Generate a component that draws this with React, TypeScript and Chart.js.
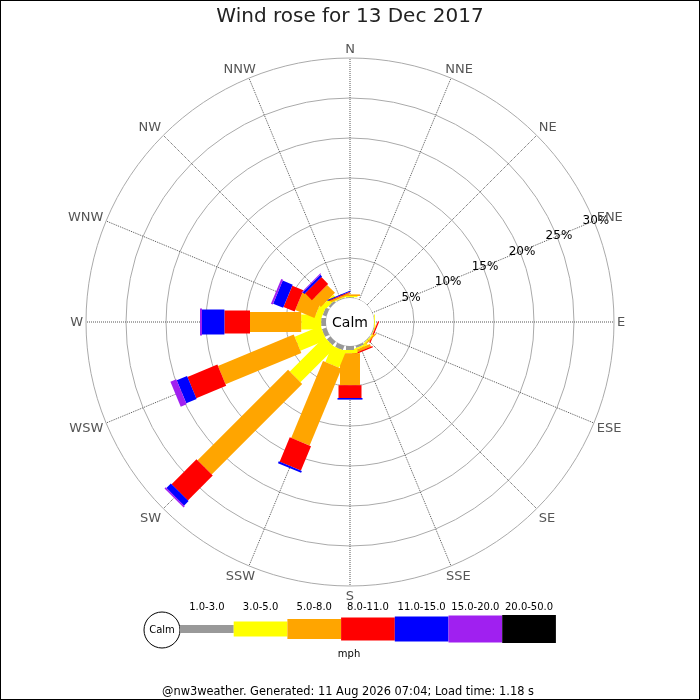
import { useEffect, useRef } from 'react'
import { Chart, registerables } from 'chart.js'

Chart.register(...registerables)

const directions = ['N', 'NNE', 'NE', 'ENE', 'E', 'ESE', 'SE', 'SSE', 'S', 'SSW', 'SW', 'WSW', 'W', 'WNW', 'NW', 'NNW']
const speedBins = ['1.0-3.0', '3.0-5.0', '5.0-8.0', '8.0-11.0', '11.0-15.0', '15.0-20.0', '20.0-50.0']

// % of the day per direction, one list per speed bin (mph)
const bin1to3 = [0.1, 0, 0, 0, 0, 0.1, 0.1, 0.3, 0.5, 0.6, 0.6, 0.6, 0.6, 0.5, 0.3, 0.1]
const bin3to5 = [0.15, 0, 0, 0, 0.1, 0.05, 0.15, 0.2, 0.4, 2.2, 6.1, 3.5, 2.5, 0.8, 0.6, 0.1]
const bin5to8 = [0.2, 0, 0, 0, 0, 0.05, 0.15, 0.35, 4.0, 10.4, 16.0, 10.25, 6.4, 2.6, 1.4, 0.2]
const bin8to11 = [0, 0, 0, 0, 0, 0.15, 0, 0.15, 1.6, 3.3, 4.4, 4.05, 3.2, 1.5, 1.2, 0.1]
const bin11to15 = [0, 0, 0, 0, 0, 0, 0, 0, 0.2, 0.25, 0.8, 1.4, 2.8, 1.35, 0.3, 0.12]
const bin15to20 = [0, 0, 0, 0, 0, 0, 0, 0, 0, 0, 0.2, 0.8, 0.25, 0.25, 0.12, 0]
const bin20to50 = [0, 0, 0, 0, 0, 0, 0, 0, 0, 0, 0, 0, 0, 0, 0, 0]

const tickValues = [0, 5, 10, 15, 20, 25, 30]

const binColors = ['#999999', '#ffff00', '#ffa500', '#ff0000', '#0000ff', '#a020f0', '#000000']
const legWidths = [8, 15, 20, 23, 25, 27, 28]
const FONT = "'DejaVu Sans', sans-serif"

// jpgraph style label alignment, a = maths angle (0 = east, ccw)
function labelAlign(a: number) {
  const q = Math.PI / 4
  let dx = 0
  let dy = 0
  if (a >= q && a <= 3 * q) dx = (a - q) * 2 / Math.PI
  else if (a > 3 * q && a <= 5 * q) dx = 1
  else if (a > 5 * q && a < 7 * q) dx = 1 - (a - 5 * q) * 2 / Math.PI
  if (a >= q && a <= 3 * q) dy = 1
  else if (a > 3 * q && a <= 5 * q) dy = 1 - (a - 3 * q) * 2 / Math.PI
  else if (a > 5 * q && a < 7 * q) dy = 0
  else if (a >= 7 * q) dy = (a - 7 * q) * 2 / Math.PI
  else dy = 0.5 + a * 2 / Math.PI
  return { dx, dy }
}

const windrosePlugin = {
  id: 'windrose',
  afterDatasetsDraw(chart: any) {
    const scale = chart.scales.r
    const ctx = chart.ctx
    const n = chart.data.labels.length
    ctx.save()
    for (let i = 0; i < n; i++) {
      const ang = scale.getIndexAngle(i) - Math.PI / 2
      const nx = -Math.sin(ang)
      const ny = Math.cos(ang)
      let cum = 0
      chart.data.datasets.forEach((ds: any, b: number) => {
        const v = ds.data[i]
        if (!v) return
        const p1 = scale.getPointPositionForValue(i, cum)
        const p2 = scale.getPointPositionForValue(i, cum + v)
        cum += v
        const hw = legWidths[b] / 2
        ctx.fillStyle = binColors[b]
        ctx.beginPath()
        ctx.moveTo(p1.x + nx * hw, p1.y + ny * hw)
        ctx.lineTo(p2.x + nx * hw, p2.y + ny * hw)
        ctx.lineTo(p2.x - nx * hw, p2.y - ny * hw)
        ctx.lineTo(p1.x - nx * hw, p1.y - ny * hw)
        ctx.closePath()
        ctx.fill()
      })
    }

    // calm circle
    const xc = scale.xCenter
    const yc = scale.yCenter
    ctx.fillStyle = '#ffffff'
    ctx.beginPath()
    ctx.arc(xc, yc, scale.getDistanceFromCenterForValue(0), 0, Math.PI * 2)
    ctx.fill()
    ctx.fillStyle = '#000'
    ctx.font = `14px ${FONT}`
    ctx.textAlign = 'center'
    ctx.textBaseline = 'middle'
    ctx.fillText('Calm', xc, yc + 1)

    // radial tick labels along ENE
    ctx.font = `12px ${FONT}`
    tickValues.slice(1).forEach((v) => {
      const p = scale.getPointPositionForValue(3, v)
      ctx.fillText(v + '%', p.x + 2, p.y)
    })

    // direction labels
    ctx.font = `13px ${FONT}`
    ctx.fillStyle = '#555555'
    ctx.textAlign = 'left'
    const h = 13
    for (let i = 0; i < n; i++) {
      const p = scale.getPointPosition(i, scale.drawingArea + 3)
      let a = Math.atan2(-(p.y - yc), p.x - xc)
      if (a < 0) a += Math.PI * 2
      const { dx, dy } = labelAlign(a)
      const txt = directions[i]
      const w = ctx.measureText(txt).width
      ctx.fillText(txt, p.x - dx * w, p.y - dy * h + h / 2 + 1)
    }
    ctx.restore()
  },
  afterDraw(chart: any) {
    const ctx = chart.ctx
    ctx.save()
    // legend
    const cx = 162
    const cy = 630
    ctx.strokeStyle = '#000'
    ctx.lineWidth = 1
    ctx.fillStyle = '#fff'
    ctx.beginPath()
    ctx.arc(cx, cy, 18, 0, Math.PI * 2)
    ctx.fill()
    ctx.stroke()
    ctx.fillStyle = '#000'
    ctx.font = `10px ${FONT}`
    ctx.textAlign = 'center'
    ctx.textBaseline = 'middle'
    ctx.fillText('Calm', cx, cy)
    const x0 = 180
    const segW = 53.7
    const ly = 629
    speedBins.forEach((label, b) => {
      const x = x0 + b * segW
      ctx.fillStyle = binColors[b]
      ctx.fillRect(x, ly - legWidths[b] / 2, segW, legWidths[b])
      ctx.fillStyle = '#000'
      ctx.fillText(label, x + segW / 2, 607)
    })
    ctx.fillText('mph', 349, 654)
    ctx.font = `11.4px ${FONT}`
    ctx.fillText('@nw3weather. Generated: 11 Aug 2026 07:04; Load time: 1.18 s', 348, 692)
    // frame
    ctx.strokeStyle = '#000'
    ctx.strokeRect(0.5, 0.5, chart.width - 1, chart.height - 1)
    ctx.restore()
  },
}

export default function App() {
  const canvasRef = useRef<HTMLCanvasElement>(null)

  useEffect(() => {
    document.body.style.margin = '0'
    if (!canvasRef.current) return
    const series = [bin1to3, bin3to5, bin5to8, bin8to11, bin11to15, bin15to20, bin20to50]
    const chart = new Chart(canvasRef.current, {
      type: 'radar',
      data: {
        labels: directions,
        datasets: series.map((data, b) => ({
          label: speedBins[b],
          data,
          showLine: false,
          pointRadius: 0,
          pointHoverRadius: 0,
          borderWidth: 0,
          fill: false,
        })),
      },
      options: {
        responsive: false,
        animation: false,
        events: [],
        layout: { padding: { left: 86, right: 86, top: 0, bottom: 114 } },
        plugins: {
          legend: { display: false },
          tooltip: { enabled: false },
          title: {
            display: true,
            text: 'Wind rose for 13 Dec 2017',
            color: '#222',
            font: { size: 20, family: FONT, weight: 'normal' },
            padding: { top: 5, bottom: 29 },
          },
        },
        scales: {
          r: {
            min: -3,
            max: 30,
            afterBuildTicks: (scale: any) => {
              scale.ticks = tickValues.map((value) => ({ value }))
            },
            ticks: { display: false },
            pointLabels: { display: false },
            grid: { circular: true, color: '#aaaaaa', lineWidth: 1 },
            angleLines: { color: '#555555', lineWidth: 1, borderDash: [1, 1] },
          },
        },
      },
      plugins: [windrosePlugin],
    })
    return () => chart.destroy()
  }, [])

  return (
    <div style={{ width: 700, height: 700, background: '#fff' }}>
      <canvas ref={canvasRef} width={700} height={700} />
    </div>
  )
}
